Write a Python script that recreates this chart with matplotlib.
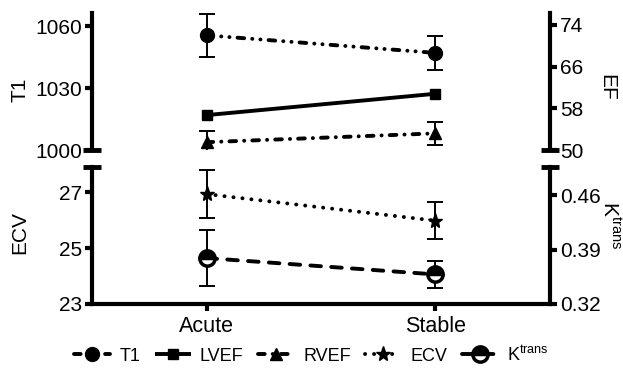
import matplotlib
matplotlib.use("Agg")
import matplotlib.pyplot as plt
import numpy as np

plt.rcParams['font.family'] = ['Liberation Sans', 'DejaVu Sans']
plt.rcParams['mathtext.default'] = 'regular'
plt.rcParams['lines.scale_dashes'] = False

groups = ['Acute', 'Stable']
t1 = [1055.5, 1047.0]
t1_err = [10.5, 8.3]
lvef = [56.7, 60.8]
rvef = [51.5, 53.2]
rvef_err = [2.1, 2.2]
ecv = [26.93, 25.98]
ecv_err = [0.87, 0.65]
ktrans = [0.379, 0.358]
ktrans_err = [0.036, 0.017]

x = np.arange(len(groups))

fig = plt.figure(figsize=(6.23, 3.76), dpi=100)
ax_t = fig.add_axes([0.1477, 0.601, 0.7351, 0.3644])
ax_b = fig.add_axes([0.1477, 0.1915, 0.7351, 0.3644])
ax_t2 = ax_t.twinx()
ax_b2 = ax_b.twinx()

lw = 2.8
err_kw = dict(ecolor='black', elinewidth=1.4, capsize=5.5, capthick=1.4)

def series(ax, y, err, marker, ms, dashes, label, **kw):
    if err is not None:
        ax.errorbar(x, y, yerr=err, fmt='none', zorder=2, **err_kw)
    line, = ax.plot(x, y, color='black', lw=lw, marker=marker, ms=ms,
                    linestyle=dashes, dash_capstyle='round',
                    solid_capstyle='butt', label=label, zorder=3, **kw)
    return line

h_t1 = series(ax_t, t1, t1_err, 'o', 10, (0, (4.8, 5.8, 0.1, 5.8, 0.1, 5.8)), 'T1')
h_lv = series(ax_t2, lvef, None, 's', 7.5, '-', 'LVEF')
h_rv = series(ax_t2, rvef, rvef_err, '^', 9, (0, (4.8, 5.8, 0.1, 5.8)), 'RVEF')
h_ecv = series(ax_b, ecv, ecv_err, '*', 11, (0, (0.1, 6.4)), 'ECV')
h_kt = series(ax_b2, ktrans, ktrans_err, 'o', 11, (0, (7.6, 7.4)), 'K$^{trans}$',
              fillstyle='top', markerfacecoloralt='white', mew=2.5)

ax_t.set_ylim(1000, 1066.3)
ax_t2.set_ylim(50, 76.3)
ax_b.set_ylim(23, 27.9)
ax_b2.set_ylim(0.32, 0.496)
for ax in (ax_t, ax_b, ax_t2, ax_b2):
    ax.set_xlim(-0.5, 1.5)

ax_t.set_yticks([1000, 1030, 1060])
ax_t2.set_yticks([50, 58, 66, 74])
ax_b.set_yticks([23, 25, 27])
ax_b2.set_yticks([0.32, 0.39, 0.46])
ax_b2.set_yticklabels(['0.32', '0.39', '0.46'])

ax_b.set_xticks(x)
ax_b.set_xticklabels(groups)
ax_t.set_xticks([])

for ax in (ax_t, ax_b, ax_t2, ax_b2):
    for s in ax.spines.values():
        s.set_visible(False)
        s.set_linewidth(3)
    ax.tick_params(direction='out', length=5, width=3, labelsize=15, pad=2)
    ax.patch.set_visible(False)
ax_t.spines['left'].set_visible(True)
ax_b.spines['left'].set_visible(True)
ax_b.spines['bottom'].set_visible(True)
ax_t2.spines['right'].set_visible(True)
ax_b2.spines['right'].set_visible(True)
ax_b.tick_params(axis='x', labelsize=15.5, pad=4)

# break caps on the spines
cap = dict(marker='_', ms=13, mew=3.5, color='black', clip_on=False)
ax_t.plot([0], [0], transform=ax_t.transAxes, **cap)
ax_t2.plot([1], [0], transform=ax_t2.transAxes, **cap)
ax_b.plot([0], [1], transform=ax_b.transAxes, **cap)
ax_b2.plot([1], [1], transform=ax_b2.transAxes, **cap)

fig.text(20 / 623, 1 - 90 / 376, 'T1', rotation=90, fontsize=15, ha='center', va='center')
fig.text(20 / 623, 1 - 233 / 376, 'ECV', rotation=90, fontsize=15, ha='center', va='center')
fig.text(607 / 623, 1 - 87 / 376, 'EF', rotation=270, fontsize=15, ha='center', va='center')
fig.text(610 / 623, 1 - 225 / 376, 'K$^{trans}$', rotation=270, fontsize=15, ha='center', va='center')

fig.legend(handles=[h_t1, h_lv, h_rv, h_ecv, h_kt], loc='center',
           bbox_to_anchor=(0.5, 1 - 355 / 376), ncol=5, frameon=False,
           fontsize=13, handlelength=2.0, handletextpad=0.5, columnspacing=0.8)

fig.savefig('out.png', dpi=100)
